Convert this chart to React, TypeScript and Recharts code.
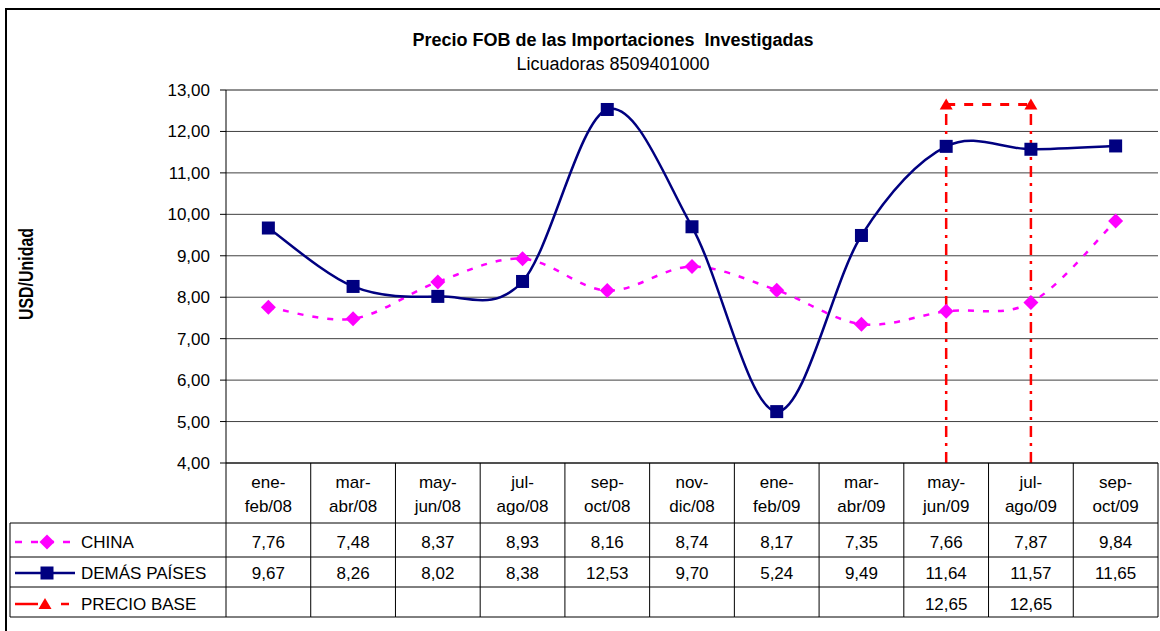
import {
  ComposedChart,
  Line,
  XAxis,
  YAxis,
  CartesianGrid,
  ReferenceLine,
} from 'recharts';

const categories = [
  'ene-feb/08',
  'mar-abr/08',
  'may-jun/08',
  'jul-ago/08',
  'sep-oct/08',
  'nov-dic/08',
  'ene-feb/09',
  'mar-abr/09',
  'may-jun/09',
  'jul-ago/09',
  'sep-oct/09',
];
const china = [7.76, 7.48, 8.37, 8.93, 8.16, 8.74, 8.17, 7.35, 7.66, 7.87, 9.84];
const demas = [9.67, 8.26, 8.02, 8.38, 12.53, 9.7, 5.24, 9.49, 11.64, 11.57, 11.65];
const precioBase = [null, null, null, null, null, null, null, null, 12.65, 12.65, null];
const seriesNames = ['CHINA', 'DEMÁS PAÍSES', 'PRECIO BASE'];
const yTicks = [4, 5, 6, 7, 8, 9, 10, 11, 12, 13];

const data = categories.map((c, i) => ({
  cat: c,
  china: china[i],
  demas: demas[i],
  base: precioBase[i],
}));

const W = 1160;
const H = 631;
const PLOT_LEFT = 226;
const PLOT_RIGHT = 1158;
const COL_W = (PLOT_RIGHT - PLOT_LEFT) / categories.length;
const FONT = '"Liberation Sans", Arial, sans-serif';
const PINK = '#FF00FF';
const NAVY = '#000080';
const RED = '#FF0000';

const fmt = (v: number | null) => (v == null ? '' : v.toFixed(2).replace('.', ','));

// excel style smoothing (catmull-rom through the points)
const excelSmooth = (context: any) => {
  let pts: number[][] = [];
  return {
    areaStart() {},
    areaEnd() {},
    lineStart() {
      pts = [];
    },
    point(x: number, y: number) {
      pts.push([+x, +y]);
    },
    lineEnd() {
      const n = pts.length;
      if (!n) return;
      context.moveTo(pts[0][0], pts[0][1]);
      for (let i = 0; i < n - 1; i++) {
        const p0 = pts[i - 1] || pts[i];
        const p1 = pts[i];
        const p2 = pts[i + 1];
        const p3 = pts[i + 2] || p2;
        context.bezierCurveTo(
          p1[0] + (p2[0] - p0[0]) / 6,
          p1[1] + (p2[1] - p0[1]) / 6,
          p2[0] - (p3[0] - p1[0]) / 6,
          p2[1] - (p3[1] - p1[1]) / 6,
          p2[0],
          p2[1]
        );
      }
    },
  };
};

const Diamond = ({ cx, cy }: { cx: number; cy: number }) => (
  <polygon
    points={`${cx},${cy - 7.5} ${cx + 7.5},${cy} ${cx},${cy + 7.5} ${cx - 7.5},${cy}`}
    fill={PINK}
  />
);
const Square = ({ cx, cy }: { cx: number; cy: number }) => (
  <rect x={cx - 6.5} y={cy - 6.5} width={13} height={13} fill={NAVY} />
);
const Triangle = ({ cx, cy }: { cx: number; cy: number }) => (
  <polygon points={`${cx},${cy - 6} ${cx + 6.5},${cy + 5} ${cx - 6.5},${cy + 5}`} fill={RED} />
);

const dotOf = (Shape: any) => (p: any) => {
  if (p.cx == null || p.cy == null || p.value == null) return <g key={p.index} />;
  return <Shape key={p.index} cx={p.cx} cy={p.cy} />;
};

const LegendColumn = ({ x0, x1, y }: { x0: number; x1: number; y: number }) => {
  const rows = [y + 79, y + 110, y + 141];
  return (
    <g>
      <line x1={x0} y1={y + 60} x2={x0} y2={y + 154} stroke="#000" />
      {[60, 94, 124, 154].map((d) => (
        <line key={d} x1={x0} y1={y + d} x2={x1} y2={y + d} stroke="#000" />
      ))}
      <line x1={15} y1={rows[0]} x2={72} y2={rows[0]} stroke={PINK} strokeWidth={2.5} strokeDasharray="7 9" />
      <Diamond cx={47} cy={rows[0]} />
      <line x1={15} y1={rows[1]} x2={75} y2={rows[1]} stroke={NAVY} strokeWidth={2.5} />
      <Square cx={47} cy={rows[1]} />
      <line x1={15} y1={rows[2]} x2={38} y2={rows[2]} stroke={RED} strokeWidth={2.5} />
      <line x1={61} y1={rows[2]} x2={69} y2={rows[2]} stroke={RED} strokeWidth={2.5} />
      <Triangle cx={45} cy={rows[2]} />
      {seriesNames.map((n, i) => (
        <text key={n} x={81} y={rows[i]} dominantBaseline="central" fontSize={17} fill="#000" fontFamily={FONT}>
          {n}
        </text>
      ))}
    </g>
  );
};

const TableTick = (props: any) => {
  const { x, y, payload } = props;
  const i = payload.index;
  const x0 = x - COL_W / 2;
  const x1 = x + COL_W / 2;
  const label = String(payload.value);
  const cut = label.indexOf('-') + 1;
  const vals = [china[i], demas[i], precioBase[i]];
  const rows = [y + 79, y + 110, y + 141];
  return (
    <g>
      {i === 0 && <line x1={x0} y1={y} x2={x0} y2={y + 154} stroke="#000" />}
      {i === 0 && <LegendColumn x0={10} x1={x0} y={y} />}
      <line x1={x1} y1={y} x2={x1} y2={y + 154} stroke="#000" />
      {[60, 94, 124, 154].map((d) => (
        <line key={d} x1={x0} y1={y + d} x2={x1} y2={y + d} stroke="#000" />
      ))}
      <text x={x} y={y + 19} textAnchor="middle" dominantBaseline="central" fontSize={17} fill="#000" fontFamily={FONT}>
        {label.slice(0, cut)}
      </text>
      <text x={x} y={y + 43} textAnchor="middle" dominantBaseline="central" fontSize={17} fill="#000" fontFamily={FONT}>
        {label.slice(cut)}
      </text>
      {vals.map((v, k) => (
        <text key={k} x={x} y={rows[k]} textAnchor="middle" dominantBaseline="central" fontSize={17} fill="#000" fontFamily={FONT}>
          {fmt(v)}
        </text>
      ))}
    </g>
  );
};

const YTitle = () => (
  <text
    x={26}
    y={274}
    transform="rotate(-90 26 274)"
    textAnchor="middle"
    dominantBaseline="central"
    fontSize={20}
    fontWeight="bold"
    fill="#000"
    fontFamily={'"Liberation Sans Narrow", "Arial Narrow", ' + FONT}
    textLength={92}
    lengthAdjust="spacingAndGlyphs"
  >
    USD/Unidad
  </text>
);

const App = () => {
  return (
    <div style={{ position: 'absolute', left: 0, top: 0, width: W, height: H, overflow: 'hidden', background: '#fff', fontFamily: FONT }}>
      <div style={{ position: 'absolute', left: 0, width: 1226, top: 30, textAlign: 'center', fontSize: 18, lineHeight: '20px', fontWeight: 'bold', whiteSpace: 'pre' }}>
        Precio FOB de las Importaciones  Investigadas
      </div>
      <div style={{ position: 'absolute', left: 0, width: 1226, top: 54, textAlign: 'center', fontSize: 18, lineHeight: '20px' }}>
        Licuadoras 8509401000
      </div>
      <ComposedChart
        width={W}
        height={H}
        data={data}
        margin={{ top: 90, right: 2, bottom: 14, left: 0 }}
        style={{ position: 'absolute', left: 0, top: 0 }}
      >
        <CartesianGrid vertical={false} stroke="#404040" />
        <XAxis
          dataKey="cat"
          scale="band"
          height={154}
          interval={0}
          tickSize={0}
          tickMargin={0}
          tickLine={false}
          axisLine={{ stroke: '#000' }}
          tick={<TableTick />}
        />
        <YAxis
          width={PLOT_LEFT}
          domain={[4, 13]}
          ticks={yTicks}
          interval={0}
          tickFormatter={(v: number) => fmt(v)}
          tick={{ fontSize: 17, fill: '#000', fontFamily: FONT }}
          tickSize={6}
          tickMargin={10}
          tickLine={{ stroke: '#000' }}
          axisLine={{ stroke: '#000' }}
          label={<YTitle />}
        />
        <YAxis
          yAxisId="r"
          orientation="right"
          width={0}
          domain={[4, 13]}
          tick={false}
          tickLine={false}
          axisLine={{ stroke: '#808080' }}
        />
        <ReferenceLine y={13} stroke="#808080" />
        <Line
          dataKey="china"
          name={seriesNames[0]}
          type={excelSmooth as any}
          stroke={PINK}
          strokeWidth={2.5}
          strokeDasharray="6 9"
          dot={dotOf(Diamond)}
          activeDot={false}
          isAnimationActive={false}
        />
        <Line
          dataKey="demas"
          name={seriesNames[1]}
          type={excelSmooth as any}
          stroke={NAVY}
          strokeWidth={2.5}
          dot={dotOf(Square)}
          activeDot={false}
          isAnimationActive={false}
        />
        <Line
          dataKey="base"
          name={seriesNames[2]}
          type="linear"
          stroke={RED}
          strokeWidth={3}
          strokeDasharray="9 9"
          dot={dotOf(Triangle)}
          activeDot={false}
          connectNulls={false}
          isAnimationActive={false}
        />
        {categories.map((c, i) =>
          precioBase[i] == null ? null : (
            <ReferenceLine
              key={c}
              segment={[
                { x: c, y: yTicks[0] },
                { x: c, y: precioBase[i] as number },
              ]}
              stroke={RED}
              strokeWidth={2.5}
              strokeDasharray="11 6 3 6"
            />
          )
        )}
      </ComposedChart>
      <div style={{ position: 'absolute', left: 5, top: 8, width: 1180, height: 660, border: '2px solid #000', pointerEvents: 'none' }} />
    </div>
  );
};

export default App;
